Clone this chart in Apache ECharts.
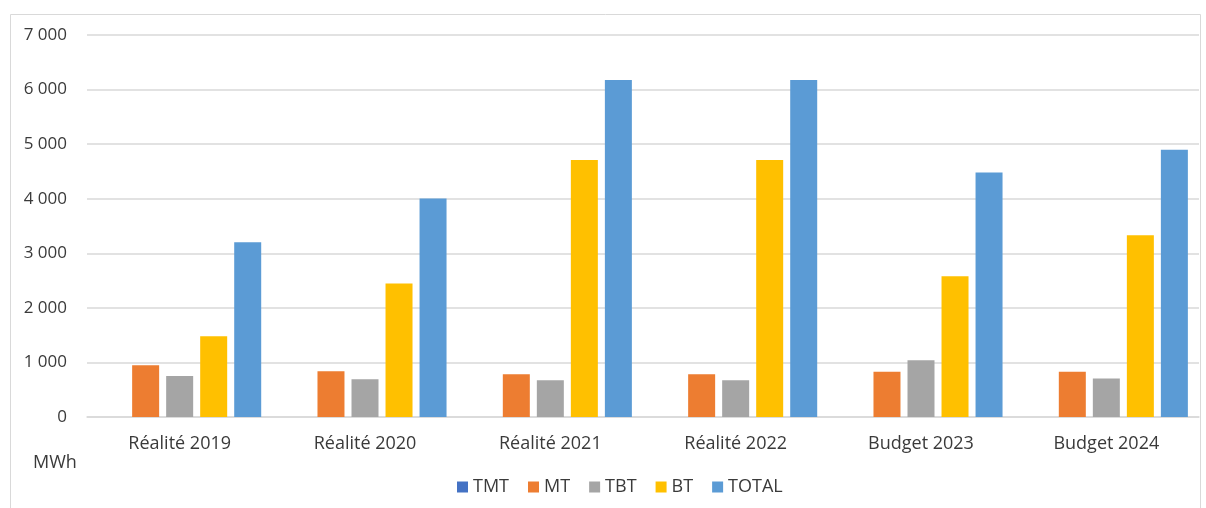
<!DOCTYPE html>
<html>
<head>
<meta charset="utf-8">
<script src="https://cdn.jsdelivr.net/npm/echarts@6/dist/echarts.min.js"></script>
<style>
  html, body { margin: 0; padding: 0; background: #fff; }
  #main { width: 1206px; height: 508px; }
</style>
</head>
<body>
<div id="main"></div>
<script>
const categories = ['Réalité 2019', 'Réalité 2020', 'Réalité 2021', 'Réalité 2022', 'Budget 2023', 'Budget 2024'];
const tmt = [0, 0, 0, 0, 0, 0];
const mt = [950, 840, 785, 785, 830, 830];
const tbt = [750, 690, 675, 675, 1040, 705];
const bt = [1480, 2445, 4710, 4710, 2580, 3330];
const total = [3200, 4005, 6175, 6175, 4480, 4895];

const seriesNames = ['TMT', 'MT', 'TBT', 'BT', 'TOTAL'];
const seriesData = [tmt, mt, tbt, bt, total];
const colors = ['#4472C4', '#ED7D31', '#A5A5A5', '#FFC000', '#5B9BD5'];

const font = '"Open Sans", "Noto Sans", sans-serif';
const chart = echarts.init(document.getElementById('main'));

chart.setOption({
  animation: false,
  textStyle: { fontFamily: font },
  color: colors,
  graphic: [
    {
      type: 'rect',
      shape: { x: 10.5, y: 14.5, width: 1190, height: 520 },
      style: { fill: 'none', stroke: '#d9d9d9', lineWidth: 1 }
    },
    {
      type: 'text',
      left: 33, top: 454,
      style: { text: 'MWh', fontSize: 18, fill: '#3a3a3a', fontFamily: font }
    }
  ],
  legend: {
    bottom: 7,
    left: 452,
    itemWidth: 11,
    itemHeight: 11,
    itemGap: 19,
    icon: 'rect',
    textStyle: { fontSize: 18, color: '#3a3a3a' },
    data: seriesNames
  },
  grid: { left: 87, right: 7, top: 35, bottom: 91 },
  xAxis: {
    type: 'category',
    data: categories,
    axisLine: { lineStyle: { color: '#d9d9d9', width: 1.5 } },
    axisTick: { show: false },
    axisLabel: { fontSize: 18, color: '#3a3a3a', margin: 18 }
  },
  yAxis: {
    type: 'value',
    min: 0,
    max: 7000,
    interval: 1000,
    axisLine: { show: false },
    axisTick: { show: false },
    splitLine: { lineStyle: { color: '#d9d9d9', width: 1.5 } },
    axisLabel: {
      fontSize: 17,
      color: '#3a3a3a',
      margin: 20,
      formatter: v => String(v).replace(/\B(?=(\d{3})+(?!\d))/g, ' ')
    }
  },
  series: seriesNames.map((name, i) => ({
    name: name,
    type: 'bar',
    data: seriesData[i],
    barWidth: 27,
    barGap: '26%'
  }))
});
</script>
</body>
</html>
